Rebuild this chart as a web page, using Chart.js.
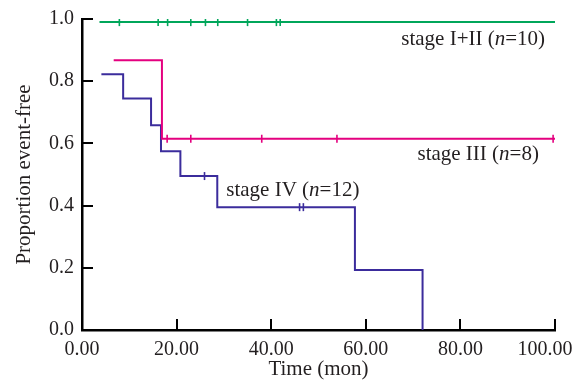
<!DOCTYPE html>
<html><head><meta charset="utf-8">
<script src="https://cdn.jsdelivr.net/npm/chart.js@4/dist/chart.umd.min.js"></script>
<style>html,body{margin:0;padding:0;background:#fff}#wrap{width:585px;height:380px;position:relative}</style>
</head><body><div id="wrap"><canvas id="c"></canvas></div>
<script>
// Tick values
const xTickValues = [0, 20, 40, 60, 80, 100];
const yTickValues = [0, 0.2, 0.4, 0.6, 0.8, 1.0];

// stage I+II (n=10)
const stage12Times = [3.7, 100];
const stage12Surv = [0.99, 0.99];
const stage12Censor = [7.9, 16.1, 18.1, 23.0, 26.1, 28.7, 35.0, 41.1, 41.9];

// stage III (n=8)
const stage3Times = [6.7, 16.9, 100];
const stage3Surv = [0.867, 0.615, 0.615];
const stage3Censor = [18.0, 23.0, 38.0, 53.9, 99.6];

// stage IV (n=12)
const stage4Times = [4.1, 8.7, 14.6, 16.7, 20.8, 28.6, 57.7, 72.0];
const stage4Surv = [0.822, 0.744, 0.658, 0.575, 0.495, 0.395, 0.193, 0.0];
const stage4Censor = [25.9, 46.0, 46.8];

const colGreen = '#00a65a';
const colMagenta = '#e4007f';
const colBlue = '#3b2c9c';

function survAt(times, surv, t) {
  let v = surv[0];
  for (let i = 0; i < times.length; i++) { if (times[i] <= t) v = surv[i]; }
  return v;
}
function curve(times, surv) { return times.map((t, i) => ({x: t, y: surv[i]})); }
function marks(times, surv, cens) { return cens.map(t => ({x: t, y: survAt(times, surv, t)})); }

const FONT = "'Liberation Serif', 'Times New Roman', serif";

const lineDs = (data, color) => ({type: 'line', data, borderColor: color, borderWidth: 2, stepped: 'before', pointRadius: 0, fill: false});
const markDs = (data, color) => ({type: 'scatter', data, borderColor: color, backgroundColor: color, pointStyle: 'line', rotation: 90, pointRadius: 4, borderWidth: 1.6});

const annotations = [
  {parts: [['stage I+II (', false], ['n', true], ['=10)', false]], x: 97.9, y: 0.935, align: 'right'},
  {parts: [['stage III (', false], ['n', true], ['=8)', false]], x: 96.6, y: 0.565, align: 'right'},
  {parts: [['stage IV (', false], ['n', true], ['=12)', false]], x: 30.5, y: 0.449, align: 'left'}
];

const overlay = {
  id: 'overlay',
  afterDraw(chart) {
    const ctx = chart.ctx, xs = chart.scales.x, ys = chart.scales.y;
    const left = ys.right, bottom = xs.top;
    ctx.save();
    ctx.fillStyle = '#000000';
    for (let i = 0; i < xTickValues.length; i++) {
      const px = Math.round(xs.getPixelForValue(xTickValues[i]));
      ctx.fillRect(px - 1, bottom - 11, 2, 11);
    }
    for (let i = 0; i < yTickValues.length; i++) {
      const py = Math.round(ys.getPixelForValue(yTickValues[i]));
      ctx.fillRect(left, py - 1, 11, 2);
    }
    ctx.fillStyle = '#231f20';
    ctx.textBaseline = 'middle';
    annotations.forEach(an => {
      const widths = an.parts.map(([s, it]) => { ctx.font = (it ? 'italic ' : '') + '21px ' + FONT; return ctx.measureText(s).width; });
      const total = widths.reduce((p, c) => p + c, 0);
      let x = xs.getPixelForValue(an.x); if (an.align === 'right') x -= total;
      const y = ys.getPixelForValue(an.y);
      ctx.textAlign = 'left';
      an.parts.forEach(([s, it], i) => { ctx.font = (it ? 'italic ' : '') + '21px ' + FONT; ctx.fillText(s, x, y); x += widths[i]; });
    });
    ctx.restore();
  }
};

new Chart(document.getElementById('c'), {
  data: {
    datasets: [
      lineDs(curve(stage12Times, stage12Surv), colGreen),
      markDs(marks(stage12Times, stage12Surv, stage12Censor), colGreen),
      lineDs(curve(stage3Times, stage3Surv), colMagenta),
      markDs(marks(stage3Times, stage3Surv, stage3Censor), colMagenta),
      lineDs(curve(stage4Times, stage4Surv), colBlue),
      markDs(marks(stage4Times, stage4Surv, stage4Censor), colBlue)
    ]
  },
  options: {
    responsive: true, maintainAspectRatio: false, animation: false,
    layout: {padding: {top: 19, right: 30, left: 0, bottom: 0}},
    plugins: {legend: {display: false}, tooltip: {enabled: false}},
    scales: {
      x: {
        type: 'linear', min: 0, max: 100,
        afterBuildTicks: s => { s.ticks = xTickValues.map(v => ({value: v})); },
        afterFit: s => { s.height = 50; s.paddingLeft = 0; s.paddingRight = 0; },
        grid: {display: false, drawTicks: false},
        border: {display: true, color: '#000', width: 2.5},
        ticks: {padding: 8, color: '#231f20', font: {family: FONT, size: 20},
          callback: v => v === 100 ? '100.00    ' : v.toFixed(2)},
        title: {display: true, text: 'Time (mon)', color: '#231f20', font: {family: FONT, size: 21}, padding: {top: 0, bottom: -2}}
      },
      y: {
        type: 'linear', min: 0, max: 1,
        afterBuildTicks: s => { s.ticks = yTickValues.map(v => ({value: v})); },
        afterFit: s => { s.width = 82; s.paddingTop = 0; s.paddingBottom = 0; },
        grid: {display: false, drawTicks: false},
        border: {display: true, color: '#000', width: 2.5},
        ticks: {padding: 8, color: '#231f20', font: {family: FONT, size: 20}, callback: v => v.toFixed(1)},
        title: {display: true, text: 'Proportion event-free', color: '#231f20', font: {family: FONT, size: 21}, padding: {top: 12, bottom: 0}}
      }
    }
  },
  plugins: [overlay]
});
</script>
</body></html>
